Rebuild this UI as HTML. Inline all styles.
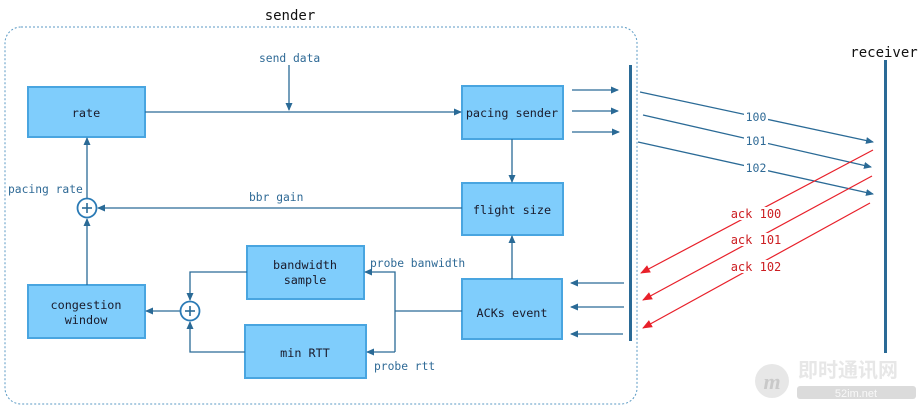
<!DOCTYPE html>
<html><head><style>
body{margin:0;background:#fff;}
svg{display:block;font-family:"DejaVu Sans Mono","Liberation Mono",monospace;}
</style></head><body>
<svg width="922" height="406" viewBox="0 0 922 406" xmlns="http://www.w3.org/2000/svg">
<defs>
<marker id="a" markerWidth="8" markerHeight="8" refX="7" refY="4" orient="auto" markerUnits="userSpaceOnUse"><path d="M0,0.5 L8,4 L0,7.5 z" fill="#2a6a96"/></marker>
<marker id="r" markerWidth="10" markerHeight="10" refX="9" refY="5" orient="auto" markerUnits="userSpaceOnUse"><path d="M0,1 L10,5 L0,9 z" fill="#e8202a"/></marker>
</defs>
<rect x="5" y="27" width="632" height="377" rx="16" fill="none" stroke="#5b9ac4" stroke-dasharray="2,2"/>
<text x="290" y="20" font-size="14" text-anchor="middle" fill="#111">sender</text>
<text x="884" y="57" font-size="14" text-anchor="middle" fill="#111">receiver</text>
<g fill="#7fcdfc" stroke="#49a5e0" stroke-width="2">
<rect x="28" y="87" width="117" height="50"/>
<rect x="462" y="86" width="101" height="53"/>
<rect x="462" y="183" width="101" height="52"/>
<rect x="462" y="279" width="100" height="60"/>
<rect x="247" y="246" width="117" height="53"/>
<rect x="245" y="325" width="121" height="53"/>
<rect x="28" y="285" width="117" height="53"/>
</g>
<g font-size="11.8" fill="#1a1a2a" text-anchor="middle">
<text x="86" y="117">rate</text>
<text x="512" y="117">pacing sender</text>
<text x="512" y="214">flight size</text>
<text x="512" y="317">ACKs event</text>
<text x="305" y="269">bandwidth</text>
<text x="305" y="284">sample</text>
<text x="305" y="357">min RTT</text>
<text x="86" y="309">congestion</text>
<text x="86" y="324">window</text>
</g>
<g stroke="#2a6a96" stroke-width="1.3" fill="none">
<line x1="289" y1="65" x2="289" y2="110" marker-end="url(#a)"/>
<line x1="145" y1="112" x2="461" y2="112" marker-end="url(#a)"/>
<line x1="512" y1="139" x2="512" y2="182" marker-end="url(#a)"/>
<line x1="512" y1="279" x2="512" y2="236" marker-end="url(#a)"/>
<line x1="462" y1="208" x2="98" y2="208" marker-end="url(#a)"/>
<line x1="87" y1="198" x2="87" y2="138" marker-end="url(#a)"/>
<line x1="87" y1="285" x2="87" y2="219" marker-end="url(#a)"/>
<polyline points="247,272 190,272 190,300" marker-end="url(#a)"/>
<polyline points="245,352 190,352 190,322" marker-end="url(#a)"/>
<line x1="180" y1="311" x2="146" y2="311" marker-end="url(#a)"/>
<line x1="462" y1="311" x2="395" y2="311"/>
<polyline points="395,352 395,272 365,272" marker-end="url(#a)"/>
<line x1="395" y1="352" x2="367" y2="352" marker-end="url(#a)"/>
<line x1="572" y1="90" x2="618" y2="90" marker-end="url(#a)"/>
<line x1="572" y1="111" x2="618" y2="111" marker-end="url(#a)"/>
<line x1="572" y1="132" x2="619" y2="132" marker-end="url(#a)"/>
<line x1="624" y1="283" x2="571" y2="283" marker-end="url(#a)"/>
<line x1="624" y1="307" x2="571" y2="307" marker-end="url(#a)"/>
<line x1="623" y1="334" x2="571" y2="334" marker-end="url(#a)"/>
<line x1="640" y1="92" x2="873" y2="142" marker-end="url(#a)"/>
<line x1="643" y1="115" x2="871" y2="167" marker-end="url(#a)"/>
<line x1="638" y1="142" x2="873" y2="194" marker-end="url(#a)"/>
</g>
<g fill="#fff" stroke="#2a7ab5" stroke-width="1.8">
<circle cx="87" cy="208" r="9.5"/>
<circle cx="190" cy="311" r="9.5"/>
</g>
<g stroke="#2a6a96" stroke-width="1.6">
<line x1="82" y1="208" x2="92" y2="208"/><line x1="87" y1="203" x2="87" y2="213"/>
<line x1="185" y1="311" x2="195" y2="311"/><line x1="190" y1="306" x2="190" y2="316"/>
</g>
<rect x="629" y="65" width="3" height="276" fill="#2a6a96"/>
<rect x="884" y="60" width="3" height="293" fill="#2a6a96"/>
<g stroke="#e8202a" stroke-width="1.2">
<line x1="873" y1="150" x2="641" y2="273" marker-end="url(#r)"/>
<line x1="872" y1="176" x2="643" y2="300" marker-end="url(#r)"/>
<line x1="870" y1="203" x2="643" y2="328" marker-end="url(#r)"/>
</g>
<g font-size="11.3" fill="#2f6a96">
<text x="259" y="62">send data</text>
<text x="249" y="201">bbr gain</text>
<text x="8" y="193">pacing rate</text>
<text x="370" y="267">probe banwidth</text>
<text x="374" y="370">probe rtt</text>
</g>
<g font-size="11.5" fill="#2f6a96" text-anchor="middle">
<rect x="744" y="110" width="24" height="12" fill="#fff"/><text x="756" y="121">100</text>
<rect x="744" y="135" width="24" height="12" fill="#fff"/><text x="756" y="145">101</text>
<rect x="744" y="162" width="24" height="12" fill="#fff"/><text x="756" y="172">102</text>
</g>
<g font-size="12" fill="#cc1e22" text-anchor="middle">
<rect x="729" y="207" width="54" height="13" fill="#fff"/><text x="756" y="218">ack 100</text>
<rect x="729" y="233" width="54" height="13" fill="#fff"/><text x="756" y="244">ack 101</text>
<rect x="729" y="260" width="54" height="13" fill="#fff"/><text x="756" y="271">ack 102</text>
</g>
<g opacity="0.35">
<circle cx="772" cy="381" r="17" fill="#bbb"/>
<text x="772" y="389" font-size="22" font-style="italic" font-weight="bold" fill="#666" text-anchor="middle" font-family="Liberation Serif,serif">m</text>
<text x="798" y="377" font-size="20" font-weight="bold" fill="#bbb" font-family="Liberation Sans,'Noto Sans CJK SC',sans-serif">即时通讯网</text>
<rect x="797" y="386" width="119" height="13" rx="3" fill="#999"/>
<text x="856" y="397" font-size="11" fill="#eee" text-anchor="middle" font-family="Liberation Sans,sans-serif">52im.net</text>
</g>
</svg>
</body></html>
